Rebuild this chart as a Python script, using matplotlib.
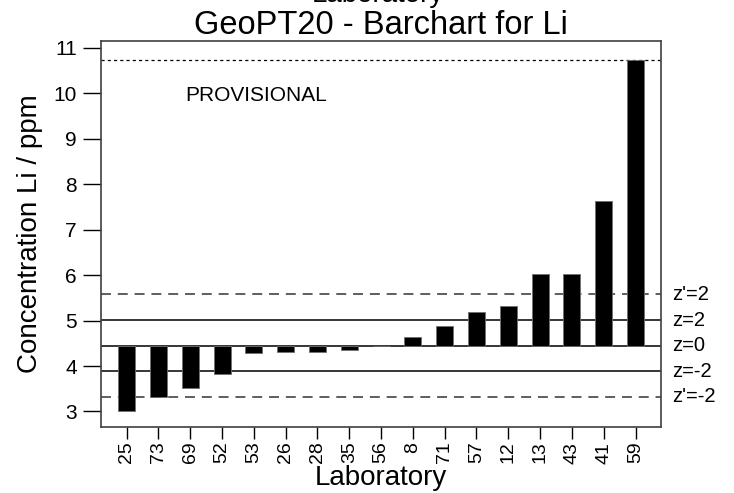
import numpy as np
import matplotlib
matplotlib.use("Agg")
import matplotlib.pyplot as plt

plt.rcParams["font.family"] = ["Liberation Sans", "DejaVu Sans"]

# lab codes and reported Li values (ppm), sorted
labs = ["25", "73", "69", "52", "53", "26", "28", "35", "56",
        "8", "71", "57", "12", "13", "43", "41", "59"]
values = [3.00, 3.32, 3.52, 3.82, 4.28, 4.31, 4.31, 4.35, 4.45,
          4.64, 4.89, 5.18, 5.33, 6.03, 6.03, 7.62, 10.73]

# assigned value and z-score limits
z0 = 4.45
z_lines = [5.01, 3.89]        # z = 2, z = -2
zp_lines = [5.58, 3.32]       # z' = 2, z' = -2
upper = 10.73
yticks = list(range(3, 12))

fig = plt.figure(figsize=(7.34, 4.93), dpi=100)
ax = fig.add_axes([0.137, 0.134, 0.7635, 0.783])

x = np.arange(len(labs))
heights = np.array(values) - z0
ax.bar(x, heights, bottom=z0, width=0.535, color="black",
       edgecolor="#707070", linewidth=0.6, zorder=3)

ax.axhline(z0, color="black", lw=1.1, zorder=2)
for v in z_lines:
    ax.axhline(v, color="black", lw=1.1, zorder=2)
for v in zp_lines:
    ax.axhline(v, color="#333333", lw=1.1, ls=(0, (6.5, 4.5)), zorder=2)
ax.axhline(upper, color="black", lw=0.9, ls=(0, (2.5, 2.5)), zorder=2)

ax.set_xlim(-0.82, 16.8)
ax.set_ylim(2.66, 11.15)
ax.set_yticks(yticks)
ax.set_xticks(x)
ax.set_xticklabels(labs, rotation=90, fontsize=14)
ax.tick_params(axis="y", length=13, width=1, labelsize=15, pad=4)
ax.tick_params(axis="x", length=8.6, width=1, pad=2)

for s in ax.spines.values():
    s.set_color("#404040")
    s.set_linewidth(1.2)

ax.set_ylabel("Concentration Li / ppm", fontsize=20)
ax.yaxis.set_label_coords(-0.103, 0.5)
ax.set_title("GeoPT20 - Barchart for Li", fontsize=23.5, pad=3.6)

# x axis label, placed under the rotated tick labels
fig.text(0.519, 0.016, "Laboratory", fontsize=20, ha="center", va="baseline")
# partially clipped label at the very top
fig.text(0.515, 0.995, "Laboratory", fontsize=20, ha="center", va="baseline")

ax.text(0.152, 0.845, "PROVISIONAL", transform=ax.transAxes, fontsize=15)

right_labels = [("z'=2", zp_lines[0]), ("z=2", z_lines[0]), ("z=0", z0),
                ("z=-2", z_lines[1]), ("z'=-2", zp_lines[1])]
for txt, v in right_labels:
    ax.text(1.02, v, txt, transform=ax.get_yaxis_transform(),
            fontsize=14.5, va="center", ha="left")

fig.savefig("out.png", dpi=100)
